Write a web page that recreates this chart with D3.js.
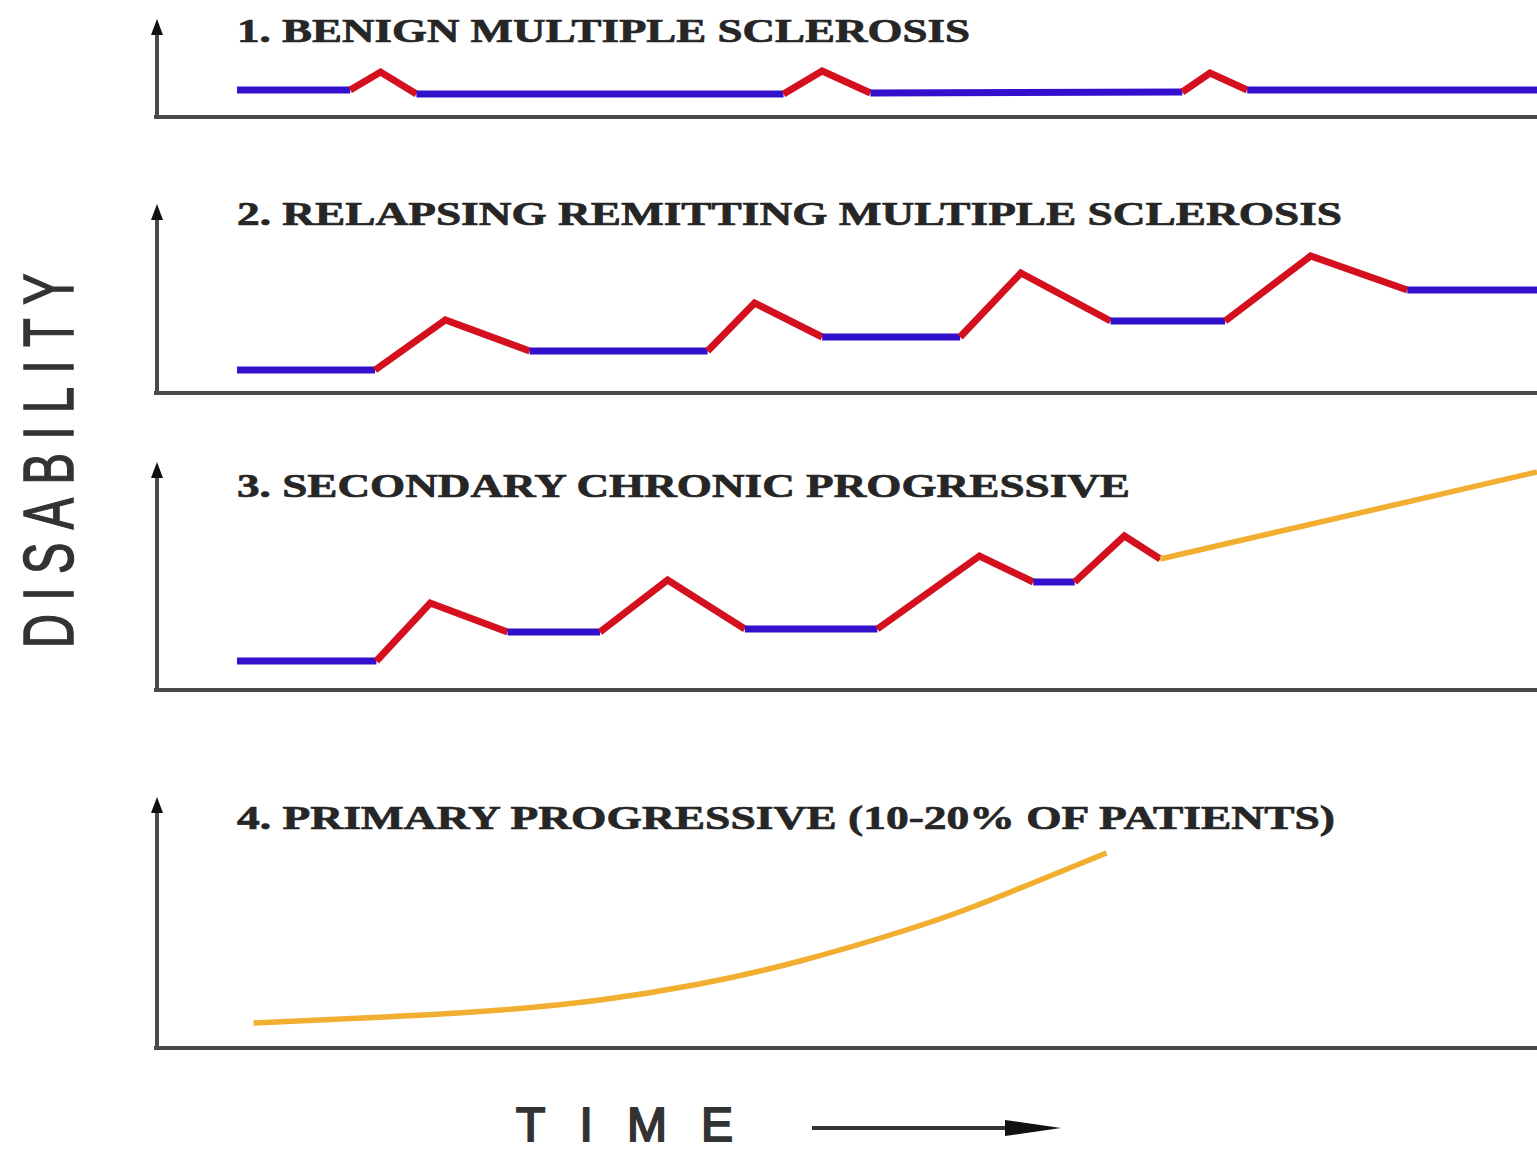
<!DOCTYPE html>
<html>
<head>
<meta charset="utf-8">
<script src="https://cdn.jsdelivr.net/npm/d3@7"></script>
<style>
  html, body { margin: 0; padding: 0; background: #fff; }
  svg { display: block; }
</style>
</head>
<body>
<svg id="chart" width="1537" height="1153"></svg>
<script>
// ---------------- DATA ----------------
// Time in arbitrary units (0-100), disability in arbitrary units.
const panelTitles = [
  "1. BENIGN MULTIPLE SCLEROSIS",
  "2. RELAPSING REMITTING MULTIPLE SCLEROSIS",
  "3. SECONDARY CHRONIC PROGRESSIVE",
  "4. PRIMARY PROGRESSIVE (10-20% OF PATIENTS)"
];
const yAxisLabel = "DISABILITY";
const xAxisLabel = "TIME";

// phase per segment: "s" = stable (blue), "r" = relapse (red), "p" = progression (orange)
const benignT     = [5.8, 14.0, 16.2, 18.8, 45.4, 48.2, 51.7, 74.3, 76.3, 79.0, 100];
const benignD     = [1.35, 1.35, 2.25, 1.15, 1.15, 2.3, 1.2, 1.25, 2.2, 1.35, 1.35];
const benignPhase = ["s", "r", "r", "s", "r", "r", "s", "r", "r", "s"];

const rrT     = [5.8, 15.8, 20.9, 27.0, 39.9, 43.3, 48.2, 58.2, 62.6, 69.1, 77.4, 83.6, 90.6, 100];
const rrD     = [1.15, 1.15, 3.65, 2.1, 2.1, 4.5, 2.8, 2.8, 6.0, 3.6, 3.6, 6.85, 5.15, 5.15];
const rrPhase = ["s", "r", "r", "s", "r", "r", "s", "r", "r", "s", "r", "r", "s"];

const spT     = [5.8, 15.9, 19.8, 25.4, 32.1, 37.0, 42.6, 52.2, 59.6, 63.5, 66.5, 70.1, 72.7, 100];
const spD     = [1.45, 1.45, 4.35, 2.9, 2.9, 5.5, 3.05, 3.05, 6.7, 5.4, 5.4, 7.7, 6.55, 10.9];
const spPhase = ["s", "r", "r", "s", "r", "r", "s", "r", "r", "s", "r", "r", "p"];

const ppT = [7.0, 16.5, 24.9, 32.1, 39.3, 46.6, 54.3, 59.1, 64.0, 68.8];
const ppD = [1.25, 1.55, 1.9, 2.4, 3.2, 4.35, 5.9, 7.05, 8.4, 9.75];

// ---------------- LAYOUT / STYLE ----------------
const W = 1537, H = 1153;
const axisX = 157;
const pxPerUnit = 20;
const panels = [
  { axisY: 117, topY: 19,  titleY: 42,  titleLen: 733,  t: benignT, d: benignD, phase: benignPhase, smooth: false },
  { axisY: 393, topY: 204, titleY: 225, titleLen: 1105, t: rrT,     d: rrD,     phase: rrPhase,     smooth: false },
  { axisY: 690, topY: 462, titleY: 497, titleLen: 893,  t: spT,     d: spD,     phase: spPhase,     smooth: false },
  { axisY: 1048, topY: 797, titleY: 829, titleLen: 1098, t: ppT,    d: ppD,     phase: null,        smooth: true }
];
const colors = { s: "#3311cc", r: "#d4101e", p: "#f2ae30" };
const axisColor = "#4a4a4a";

const svg = d3.select("#chart");
const x = d3.scaleLinear().domain([0, 100]).range([axisX, W]);

panels.forEach((p, i) => {
  const yMax = (p.axisY - p.topY) / pxPerUnit;
  const y = d3.scaleLinear().domain([0, yMax]).range([p.axisY, p.topY]);
  const g = svg.append("g").attr("class", "panel-" + (i + 1));

  // x axis (baseline)
  g.append("line")
    .attr("x1", x(0) - 3).attr("x2", x(100))
    .attr("y1", y(0)).attr("y2", y(0))
    .attr("stroke", axisColor).attr("stroke-width", 4);

  // y axis with arrow
  g.append("line")
    .attr("x1", x(0)).attr("x2", x(0))
    .attr("y1", y(0) + 2).attr("y2", y(yMax) + 12)
    .attr("stroke", axisColor).attr("stroke-width", 4);
  g.append("path")
    .attr("d", `M${x(0)},${y(yMax)} L${x(0) - 6},${y(yMax) + 16} L${x(0) + 6},${y(yMax) + 16} Z`)
    .attr("fill", "#111");

  // title
  g.append("text")
    .attr("x", 237).attr("y", p.titleY)
    .attr("font-family", "'Liberation Serif', 'Times New Roman', serif")
    .attr("font-weight", "bold")
    .attr("font-size", 34)
    .attr("fill", "#262626")
    .attr("stroke", "#262626")
    .attr("stroke-width", 0.7)
    .attr("textLength", p.titleLen)
    .attr("lengthAdjust", "spacingAndGlyphs")
    .text(panelTitles[i]);

  const pts = p.t.map((t, k) => [t, p.d[k]]);

  if (p.smooth) {
    const line = d3.line().x(d => x(d[0])).y(d => y(d[1])).curve(d3.curveNatural);
    g.append("path")
      .attr("d", line(pts))
      .attr("fill", "none")
      .attr("stroke", colors.p)
      .attr("stroke-width", 5.5);
    return;
  }

  // group consecutive segments of same phase into runs
  const runs = [];
  let start = 0;
  for (let k = 1; k <= p.phase.length; k++) {
    if (k === p.phase.length || p.phase[k] !== p.phase[start]) {
      runs.push({ phase: p.phase[start], pts: pts.slice(start, k + 1) });
      start = k;
    }
  }
  const line = d3.line().x(d => x(d[0])).y(d => y(d[1]));
  g.selectAll("path.run")
    .data(runs)
    .enter().append("path")
    .attr("class", "run")
    .attr("d", r => line(r.pts))
    .attr("fill", "none")
    .attr("stroke", r => colors[r.phase])
    .attr("stroke-width", r => r.phase === "p" ? 5.5 : 7)
    .attr("stroke-linejoin", "miter")
    .attr("stroke-linecap", "butt");
});

// Y axis label
svg.append("text")
  .attr("transform", "translate(73,454) rotate(-90)")
  .attr("text-anchor", "middle")
  .attr("font-family", "'Liberation Sans', Arial, sans-serif")
  .attr("font-size", 70)
  .attr("fill", "#333")
  .attr("stroke", "#333")
  .attr("stroke-width", 1.5)
  .attr("letter-spacing", 20)
  .attr("textLength", 388)
  .attr("lengthAdjust", "spacingAndGlyphs")
  .text(yAxisLabel);

// X axis label
svg.append("text")
  .attr("x", 516).attr("y", 1141)
  .attr("font-family", "'Liberation Sans', Arial, sans-serif")
  .attr("font-size", 48)
  .attr("fill", "#333")
  .attr("stroke", "#333")
  .attr("stroke-width", 2)
  .attr("textLength", 217)
  .attr("lengthAdjust", "spacing")
  .text(xAxisLabel);

// time arrow
svg.append("line")
  .attr("x1", 812).attr("x2", 1010)
  .attr("y1", 1128).attr("y2", 1128)
  .attr("stroke", "#333").attr("stroke-width", 4);
svg.append("path")
  .attr("d", "M1061,1128 L1005,1120 L1005,1136 Z")
  .attr("fill", "#111");
</script>
</body>
</html>
